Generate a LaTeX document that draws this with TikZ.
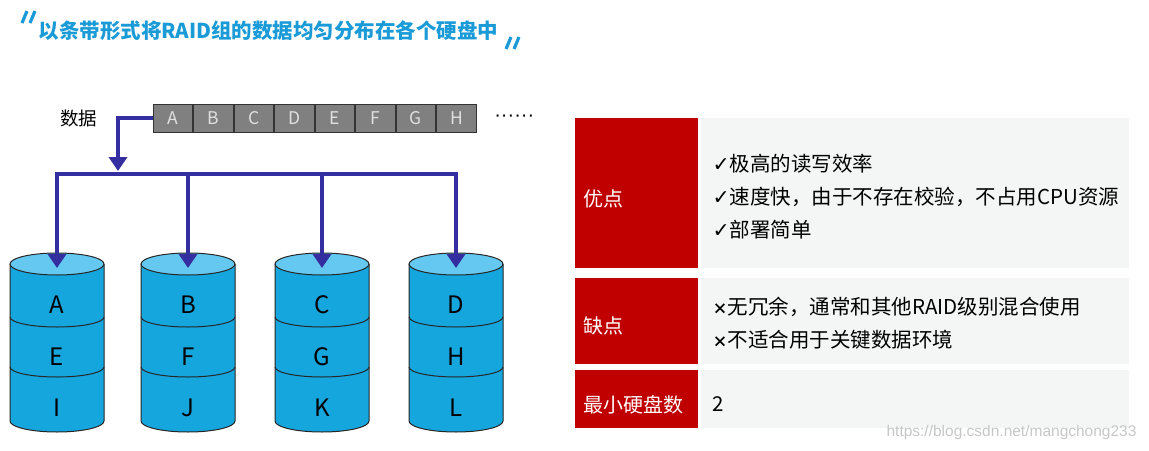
\documentclass[tikz,border=0pt]{standalone}
\usepackage{fontspec}
\setmainfont{Noto Sans CJK SC}
\newfontfamily\symfont{DejaVu Sans}
\newfontfamily\urlfont{Liberation Sans}
\usetikzlibrary{positioning,arrows.meta}

\definecolor{titleblue}{RGB}{26,155,215}
\definecolor{cellgray}{RGB}{128,128,128}
\definecolor{flowblue}{RGB}{52,46,160}
\definecolor{diskblue}{RGB}{22,166,222}
\definecolor{disktop}{RGB}{100,200,240}
\definecolor{tabred}{RGB}{192,0,0}
\definecolor{tabgray}{RGB}{244,246,246}

\tikzset{
  cell/.style={draw=black!80,fill=cellgray,text=white!88!black,line width=1pt,
    minimum width=39.5pt,minimum height=28pt,inner sep=0pt,font=\fontsize{17.5}{17.5}\selectfont},
  flow/.style={draw=flowblue,line width=4.5pt},
  flow arrow/.style={flow,-{Triangle[length=14pt,width=18pt]}},
  disk label/.style={font=\fontsize{24}{24}\selectfont},
  head/.style={fill=tabred,text=white,text width=107pt,inner xsep=8pt,align=left,
    font=\fontsize{20}{24}\selectfont},
  body/.style={fill=tabgray,inner xsep=12pt,font=\fontsize{20.5}{33}\selectfont},
  quote mark/.style={draw=titleblue,line width=3.2pt}
}
\newcommand{\tick}{{\symfont ✓}}
\newcommand{\cross}{{\fontsize{15}{15}\selectfont\bfseries ×}}
% move a text down without changing its box
\newcommand{\sink}[2]{\raisebox{-#1}[\height][\depth]{#2}}
\newcommand{\lines}[1]{\parbox{404pt}{\raggedright #1}}

% one disk: centre x, name, three blocks
\newcommand{\hdd}[5]{%
  \fill[diskblue] (#1-47,264) -- (#1-47,421)
    arc[start angle=180,end angle=360,x radius=47pt,y radius=11pt] -- (#1+47,264) -- cycle;
  \draw[line width=1pt,black!85] (#1-47,264) -- (#1-47,421)
    arc[start angle=180,end angle=360,x radius=47pt,y radius=11pt] -- (#1+47,264);
  \draw[line width=1pt,black!85] (#1-47,317) arc[start angle=180,end angle=360,x radius=47pt,y radius=10pt];
  \draw[line width=1pt,black!85] (#1-47,367) arc[start angle=180,end angle=360,x radius=47pt,y radius=10pt];
  \filldraw[fill=disktop,draw=black!85,line width=1pt] (#1,264) ellipse[x radius=47pt,y radius=11pt];
  \node[disk label] (#2a) at (#1,305) {#3};
  \node[disk label] (#2b) at (#1,357) {#4};
  \node[disk label] (#2c) at (#1,408) {#5};
  \coordinate (#2top) at (#1,268);
}

\begin{document}
\begin{tikzpicture}[x=1pt,y=-1pt]
\useasboundingbox[fill=white] (0,0) rectangle (1149,450);

  % title
  \draw[quote mark] (22,23) -- (27,11) (30,23) -- (35,11);
  \draw[quote mark] (506,49) -- (511,37) (514,49) -- (519,37);
  \node[anchor=west,text=titleblue,font=\fontsize{20.5}{22}\selectfont\bfseries] (title) at (35,31)
    {以条带形式将RAID组的数据均匀分布在各个硬盘中};

  % data stripe
  \node[cell] (cA) at (173,118) {A};
  \node[cell] (cB) [right=0pt of cA] {B};
  \node[cell] (cC) [right=0pt of cB] {C};
  \node[cell] (cD) [right=0pt of cC] {D};
  \node[cell] (cE) [right=0pt of cD] {E};
  \node[cell] (cF) [right=0pt of cE] {F};
  \node[cell] (cG) [right=0pt of cF] {G};
  \node[cell] (cH) [right=0pt of cG] {H};
  \node[font=\urlfont\fontsize{20}{20}\selectfont] (more) [right=14pt of cH] {······};
  \node[font=\fontsize{18.5}{20}\selectfont] (data) [left=52pt of cA] {数据};

  % disks
  \hdd{57}{d1}{A}{E}{I}
  \hdd{188}{d2}{B}{F}{J}
  \hdd{322}{d3}{C}{G}{K}
  \hdd{456}{d4}{D}{H}{L}

  % striping
  \coordinate (split) at (118,171);
  \coordinate (barL) at (57,174);
  \coordinate (barR) at (456,174);
  \draw[flow arrow] (cA.west) -| (split);
  \draw[flow,line cap=rect] (barL) -- (barR);
  \draw[flow arrow] (barL) -- (d1top);
  \draw[flow arrow] (d2top |- barL) -- (d2top);
  \draw[flow arrow] (d3top |- barL) -- (d3top);
  \draw[flow arrow] (barR) -- (d4top);

  % table
  \node[head,anchor=north west,minimum height=150pt] (pro) at (575,118) {\sink{5.5pt}{优点}};
  \node[body,minimum height=150pt] (proText) [right=2pt of pro]
    {\sink{3.5pt}{\lines{\tick 极高的读写效率\\\tick 速度快，由于不存在校验，不占用CPU资源\\\tick 部署简单}}};
  \node[head,minimum height=86pt] (con) [below=9pt of pro] {\sink{5.5pt}{缺点}};
  \node[body,minimum height=86pt] (conText) [right=2pt of con]
    {\sink{3pt}{\lines{\cross 无冗余，通常和其他RAID级别混合使用\\\cross 不适合用于关键数据环境}}};
  \node[head,minimum height=58pt] (minDisk) [below=6pt of con] {\sink{5.5pt}{最小硬盘数}};
  \node[body,minimum height=58pt] (minText) [right=2pt of minDisk] {\sink{5pt}{\lines{2}}};

  \node[anchor=east,text=black!22,font=\urlfont\fontsize{15.5}{16}\selectfont] (mark) at (1140,432)
    {https://blog.csdn.net/mangchong233};
\end{tikzpicture}
\end{document}
